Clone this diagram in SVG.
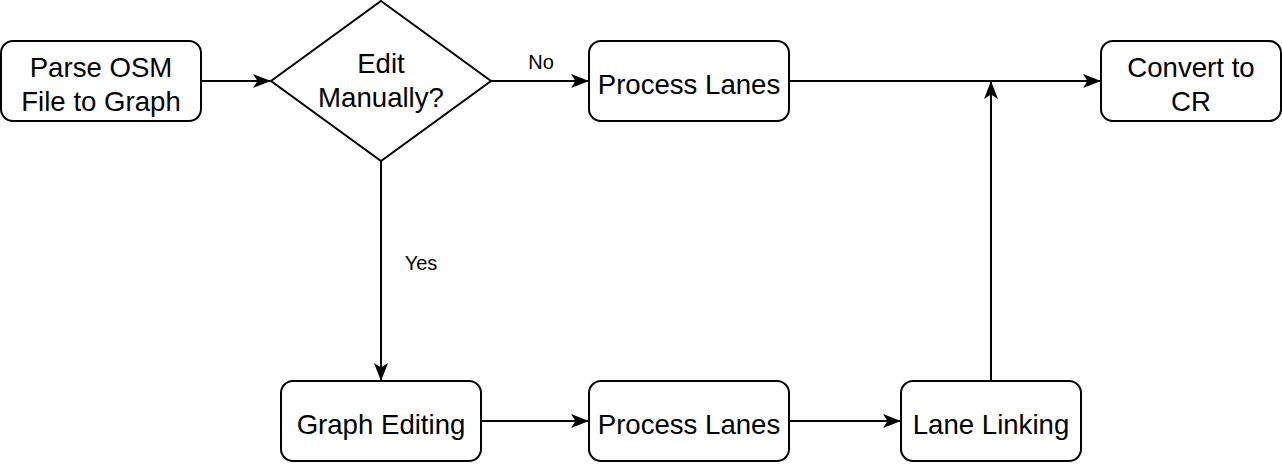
<svg xmlns="http://www.w3.org/2000/svg" width="1282" height="464" viewBox="0 0 1282 464">
<defs>
<style>
.n{fill:#fff;stroke:#000;stroke-width:2}
.t{font-family:"Liberation Sans",Arial,sans-serif;font-size:27.6px;fill:#000;text-anchor:middle}
.l{font-family:"Liberation Sans",Arial,sans-serif;font-size:20px;fill:#000;text-anchor:middle}
.e{fill:none;stroke:#000;stroke-width:2}
</style>
<marker id="a" viewBox="0 0 18 14" refX="17" refY="7" markerWidth="18" markerHeight="14" markerUnits="userSpaceOnUse" orient="auto">
<path d="M0,0 L18,7 L0,14 L4.5,7 Z" fill="#000"/>
</marker>
</defs>
<rect width="1282" height="464" fill="#fff"/>
<g id="connectors">
<path class="e" d="M201,81 H270" marker-end="url(#a)"/>
<path class="e" d="M491,81 H588" marker-end="url(#a)"/>
<path class="e" d="M789,81 H1100" marker-end="url(#a)"/>
<path class="e" d="M991,381 V82" marker-end="url(#a)"/>
<path class="e" d="M381,161 V380" marker-end="url(#a)"/>
<path class="e" d="M481,421 H588" marker-end="url(#a)"/>
<path class="e" d="M789,421 H900" marker-end="url(#a)"/>
<text class="l" x="541" y="69">No</text>
<text class="l" x="421" y="270">Yes</text>
</g>
<g id="parse">
<rect class="n" x="1" y="41" width="200" height="80" rx="12"/>
<text class="t" x="101" y="77">Parse OSM</text>
<text class="t" x="101" y="111">File to Graph</text>
</g>
<g id="decision">
<path class="n" d="M381,1 L491,81 L381,161 L271,81 Z"/>
<text class="t" x="381" y="73">Edit</text>
<text class="t" x="381" y="107">Manually?</text>
</g>
<g id="process1">
<rect class="n" x="589" y="41" width="200" height="80" rx="12"/>
<text class="t" x="689" y="94">Process Lanes</text>
</g>
<g id="convert">
<rect class="n" x="1101" y="41" width="180" height="80" rx="12"/>
<text class="t" x="1191" y="77">Convert to</text>
<text class="t" x="1191" y="111">CR</text>
</g>
<g id="graphediting">
<rect class="n" x="281" y="381" width="200" height="80" rx="12"/>
<text class="t" x="381" y="434">Graph Editing</text>
</g>
<g id="process2">
<rect class="n" x="589" y="381" width="200" height="80" rx="12"/>
<text class="t" x="689" y="434">Process Lanes</text>
</g>
<g id="lanelinking">
<rect class="n" x="901" y="381" width="180" height="80" rx="12"/>
<text class="t" x="991" y="434">Lane Linking</text>
</g>
</svg>
